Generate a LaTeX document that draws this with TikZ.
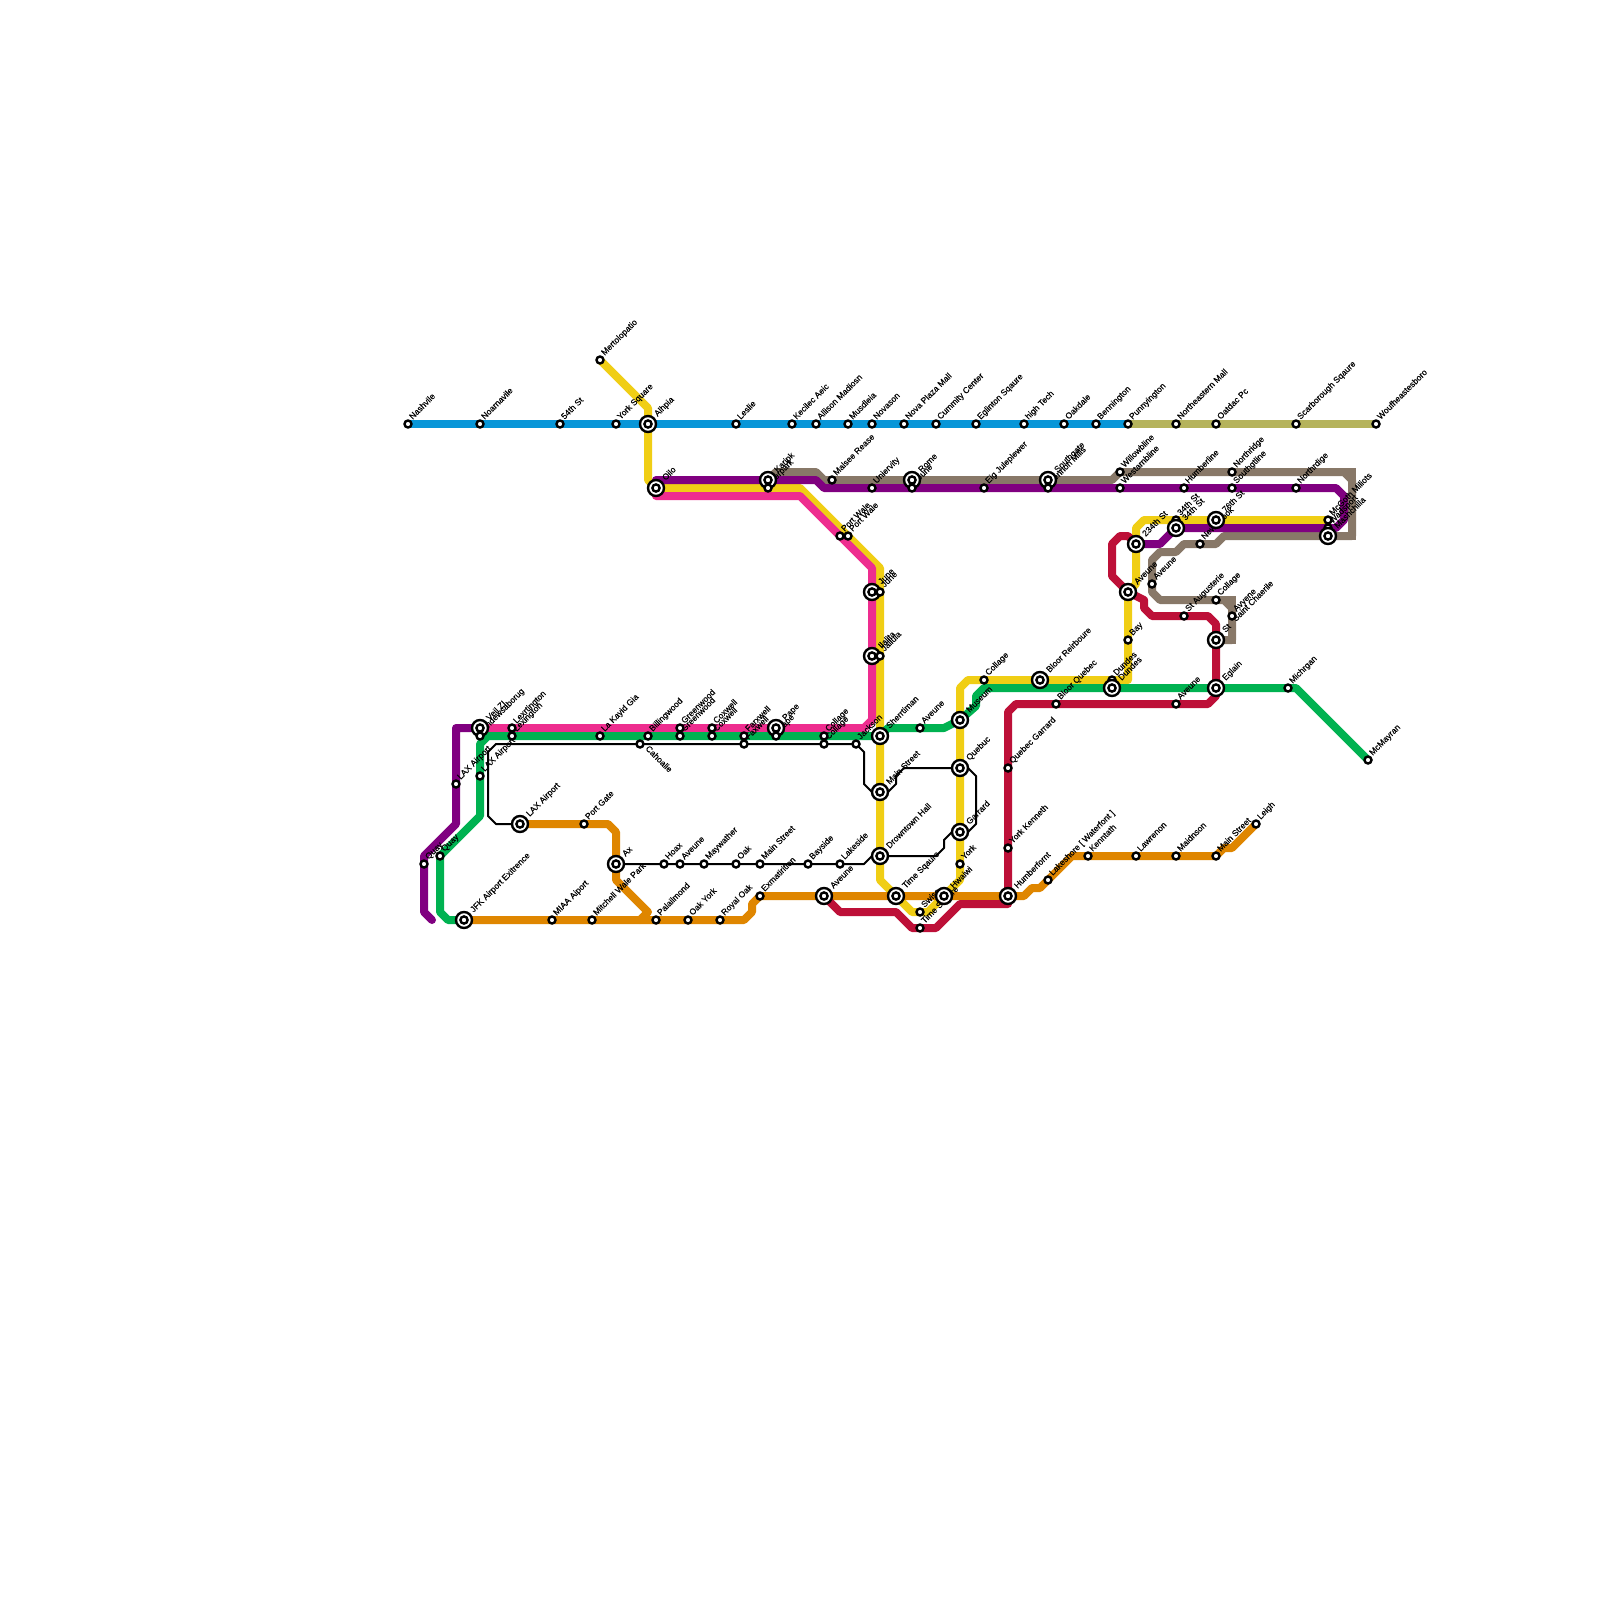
\documentclass[tikz,border=0pt]{standalone}
\usepackage{fontspec}
\setmainfont[FakeBold=0.3]{Liberation Sans}
\pgfdeclarelayer{labs}
\pgfdeclarelayer{stns}
\pgfsetlayers{main,labs,stns}
\definecolor{cblue}{HTML}{0896D8}
\definecolor{colive}{HTML}{B5B35C}
\definecolor{cyellow}{HTML}{F0CE15}
\definecolor{cpurple}{HTML}{800080}
\definecolor{cpink}{HTML}{EE2D8F}
\definecolor{cgreen}{HTML}{00B251}
\definecolor{corange}{HTML}{DF8600}
\definecolor{ccrimson}{HTML}{BD1038}
\definecolor{cgray}{HTML}{887868}
\tikzset{
  metro/.style={line width=8pt,line join=round,line cap=round},
  sqcorner/.style={line width=8pt,line join=miter,line cap=butt,cgray},
  thinline/.style={line width=2pt,line join=round,black},
  ringsmall/.style={circle,draw=black,fill=white,line width=2.4pt,minimum size=7pt,inner sep=0pt},
  ringbig/.style={circle,draw=black,fill=white,line width=2.4pt,minimum size=16pt,inner sep=0pt},
  ringin/.style={circle,draw=black,fill=white,line width=2.4pt,minimum size=7.2pt,inner sep=0pt},
  lbl/.style={rotate=45,anchor=base west,inner sep=0pt,font=\fontsize{8.5}{8.5}\selectfont,text=black}
}
\newcommand\stn[4]{%
  \begin{pgfonlayer}{labs}\node[lbl] (#1t) at (#2+4.5,#3-4) {#4};\end{pgfonlayer}%
  \begin{pgfonlayer}{stns}\node[ringsmall] (#1) at (#2,#3) {};\end{pgfonlayer}}
\newcommand\xch[4]{%
  \begin{pgfonlayer}{labs}\node[lbl] (#1t) at (#2+9.5,#3-7) {#4};\end{pgfonlayer}%
  \begin{pgfonlayer}{stns}\node[ringbig] (#1) at (#2,#3) {};\node[ringin] (#1i) at (#2,#3) {};\end{pgfonlayer}}
\begin{document}
\begin{tikzpicture}[x=1pt,y=-1pt]
\fill[white] (0,0) rectangle (1600,1600);
\useasboundingbox (0,0) rectangle (1600,1600);
% small stations that lie under an interchange
\stn{dun2}{1112}{680}{Dundes}
\stn{thi2}{1176}{520}{34th St}
\stn{wad}{1328}{528}{Wadsport}
% interchanges
\xch{alh}{648}{424}{Alhpia}
\xch{oil}{656}{488}{Oilo}
\xch{kar}{768}{480}{Karipk}
\xch{rome}{912}{480}{Rome}
\xch{sou}{1048}{480}{Southgate}
\xch{jun}{872}{592}{June}
\xch{hal}{872}{656}{Ilalita}
\xch{vail}{480}{728}{Veil ZI}
\xch{pap}{776}{728}{Pape}
\xch{she}{880}{736}{Sherrtiman}
\xch{mai}{880}{792}{Main Street}
\xch{dro}{880}{856}{Drowntown Hall}
\xch{tim}{896}{896}{Time Sqaure}
\xch{hwa}{944}{896}{Hwaiwi}
\xch{mus}{960}{720}{Museum}
\xch{que}{960}{768}{Quebuc}
\xch{gar}{960}{832}{Garrard}
\xch{hum}{1008}{896}{Humberfornt}
\xch{blo}{1040}{680}{Bloor Reirboure}
\xch{dun}{1112}{688}{Dundes}
\xch{egl}{1216}{688}{Eglain}
\xch{stt}{1216}{640}{St}
\xch{ave}{1128}{592}{Aveune}
\xch{twe}{1136}{544}{234th St}
\xch{thi}{1176}{528}{34th St}
\xch{sev}{1216}{520}{76th St}
\xch{mad}{1328}{536}{Mashchilla}
\xch{laxo}{520}{824}{LAX Airport}
\xch{ax}{616}{864}{Ax}
\xch{jfk}{464}{920}{JFK Airport Exitrence}
\xch{avo}{824}{896}{Aveune}
% blue and olive
\stn{nas}{408}{424}{Nashvile}
\stn{noa}{480}{424}{Noarnavile}
\stn{fif}{560}{424}{54th St}
\stn{yor}{616}{424}{York Square}
\stn{mer}{600}{360}{Mertolopatio}
\stn{les}{736}{424}{Leslie}
\stn{kec}{792}{424}{Kecilec Aeic}
\stn{all}{816}{424}{Allison Madiosn}
\stn{mud}{848}{424}{Musdleia}
\stn{nov}{872}{424}{Novason}
\stn{npm}{904}{424}{Nova Plaza Mall}
\stn{cum}{936}{424}{Cummity Center}
\stn{egs}{976}{424}{Eglinton Sqaure}
\stn{hig}{1024}{424}{high Tech}
\stn{oak}{1064}{424}{Oakdale}
\stn{ben}{1096}{424}{Bennington}
\stn{pun}{1128}{424}{Punnyington}
\stn{nem}{1176}{424}{Northeastern Mall}
\stn{oat}{1216}{424}{Oatdac Pc}
\stn{sca}{1296}{424}{Scarborough Sqaure}
\stn{wou}{1376}{424}{Woufheastesboro}
% north middle
\stn{kar3}{768}{488}{Kerpark}
\stn{mal}{832}{480}{Malsee Rease}
\stn{uni}{872}{488}{Uniervity}
\stn{rom3}{912}{488}{Jeune}
\stn{eig}{984}{488}{Eig Juleplewer}
\stn{sou3}{1048}{488}{Lennon Mills}
\stn{wil}{1120}{472}{Willowbline}
\stn{wes}{1120}{488}{Westarnbline}
\stn{hln}{1184}{488}{Humberline}
\stn{nri}{1232}{472}{Northridge}
\stn{sgl}{1232}{488}{Southgtline}
\stn{nrd}{1296}{488}{Northrdige}
\stn{mcg}{1328}{520}{McGoth Miliots}
\stn{nbr}{1200}{544}{New Brook}
\stn{av2}{1152}{584}{Aveune}
\stn{sau}{1184}{616}{St Augusterie}
\stn{col}{1216}{600}{Collage}
\stn{av3}{1232}{616}{Avyene}
\begin{pgfonlayer}{labs}\node[lbl] (scht) at (1236,622) {Saint Chaerile};\end{pgfonlayer}
\stn{bay}{1128}{640}{Bay}
\stn{pw1}{840}{536}{Port Wale}
\stn{pw2}{848}{536}{Port Wale}
\stn{jun2}{880}{592}{June}
\stn{hal2}{880}{656}{Jaliula}
% east middle
\stn{clg}{984}{680}{Collage}
\stn{bqu}{1056}{704}{Bloor Quebec}
\stn{av4}{1176}{704}{Aveune}
\stn{mic}{1288}{688}{Michrgan}
\stn{mcm}{1368}{760}{McMayran}
\stn{qga}{1008}{768}{Quebec Garrard}
\stn{yke}{1008}{848}{York Kenneth}
\stn{lak}{1048}{880}{Lakeshore [ Waterfont ]}
\stn{ken}{1088}{856}{Kenntath}
\stn{law}{1136}{856}{Lawrenon}
\stn{mdn}{1176}{856}{Maidnson}
\stn{mst}{1216}{856}{Main Street}
\stn{lei}{1256}{824}{Leigh}
\stn{yrk}{960}{864}{York}
\stn{swi}{920}{912}{Swiss}
\stn{tsq}{920}{928}{Time Square}
\stn{ave9}{920}{728}{Aveune}
\stn{jac}{856}{744}{Jackson}
% west row
\stn{vai3}{480}{736}{Andewsaborug}
\stn{lex}{512}{728}{Lexrtington}
\stn{lxn}{512}{736}{Lexington}
\stn{lay}{600}{736}{La Kayid Gia}
\stn{bil}{648}{736}{Billingwood}
\begin{pgfonlayer}{labs}\node[lbl,rotate=-90,anchor=base west] (caht) at (645,749) {Cahoalie};\end{pgfonlayer}
\begin{pgfonlayer}{stns}\node[ringsmall] (cah) at (640,744) {};\end{pgfonlayer}
\stn{gr1}{680}{728}{Greenwood}
\stn{gr2}{680}{736}{Greenwood}
\stn{cx1}{712}{728}{Coxwell}
\stn{cx2}{712}{736}{Coxwell}
\stn{fa1}{744}{736}{Farxwell}
\stn{fa2}{744}{744}{Faxwell}
\stn{pa3}{776}{736}{Pape}
\stn{co1}{824}{736}{Collage}
\stn{co2}{824}{744}{Collage}
\stn{lxp}{456}{784}{LAX Airport}
\stn{lxg}{480}{776}{LAX Airport}
\stn{qu1}{424}{864}{Quay}
\stn{qu2}{440}{856}{Quay}
\stn{pga}{584}{824}{Port Gate}
\stn{mia}{552}{920}{MIAA Aiport}
\stn{mit}{592}{920}{Mitchell Wale Park}
\stn{pal}{656}{920}{Palailmond}
\stn{oky}{688}{920}{Oak York}
\stn{roy}{720}{920}{Royal Oak}
\stn{exm}{760}{896}{Exmatirition}
\stn{hoa}{664}{864}{Hoax}
\stn{av5}{680}{864}{Aveune}
\stn{may}{704}{864}{Maywather}
\stn{oa2}{736}{864}{Oak}
\stn{ms2}{760}{864}{Main Street}
\stn{bys}{808}{864}{Bayside}
\stn{lks}{840}{864}{Lakeside}
% lines
\draw[metro,cgray] (kar.center) -- (776,472) -- (816,472) -- (824,480) -- (1112,480) -- (wil.center) -- (1344,472) -- (1352,480) -- (1352,536) -- (mad.center);
\draw[metro,cgray] (mad.center) -- (1224,536) -- (1216,544) -- (1184,544) -- (1176,552) -- (1160,552) -- (1152,560) -- (1152,592) -- (1160,600) -- (1224,600) -- (1232,608) -- (1232,640) -- (stt.center);
\draw[sqcorner] (1340,472) -- (1352,472) -- (1352,484);
\draw[sqcorner] (1352,524) -- (1352,536) -- (1340,536);
\draw[sqcorner] (1220,600) -- (1232,600) -- (1232,612);
\draw[sqcorner] (1232,628) -- (1232,640) -- (1220,640);
\draw[metro,colive] (pun.center) -- (wou.center);
\draw[metro,cyellow] (mer.center) -- (640,400) -- (648,408) -- (648,480) -- (oil.center) -- (800,488) -- (880,568) -- (880,880) -- (904,904) -- (912,912) -- (928,912) -- (960,880) -- (960,688) -- (968,680) -- (1128,680) -- (1128,592) -- (1136,584) -- (1136,528) -- (1144,520) -- (mcg.center);
\draw[metro,cpink] (oil.center) ++(0,8) -- (800,496) -- (872,568) -- (872,720) -- (864,728) -- (vail.center);
\draw[metro,cpurple] (oil.center) ++(0,-8) -- (816,480) -- (824,488) -- (1336,488) -- (1344,496) -- (1344,520) -- (1336,528) -- (1176,528) -- (1160,544) -- (twe.center);
\draw[metro,cpurple] (vail.center) -- (456,728) -- (456,824) -- (424,856) -- (424,912) -- (432,920);
\draw[metro,cblue] (nas.center) -- (pun.center);
\draw[metro,cgreen] (jfk.center) -- (448,920) -- (440,912) -- (qu2.center) -- (480,816) -- (480,744) -- (488,736) -- (872,736) -- (she.center) -- (888,728) -- (944,728) -- (960,720) -- (976,706) -- (976,696) -- (984,688) -- (mic.center) -- (1296,688) -- (mcm.center);
\draw[metro,corange] (laxo.center) -- (608,824) -- (616,832) -- (616,880) -- (648,912) -- (640,920);
\draw[metro,corange] (jfk.center) -- (744,920) -- (752,912) -- (752,904) -- (exm.center) -- (hum.center) -- (1024,896) -- (1032,888) -- (1040,888) -- (1072,856) -- (mst.center) -- (1224,848) -- (1232,848) -- (lei.center);
\draw[metro,ccrimson] (avo.center) -- (840,912) -- (896,912) -- (912,928) -- (936,928) -- (960,904) -- (1008,904) -- (1008,712) -- (1016,704) -- (1208,704) -- (1216,696) -- (1216,624) -- (1208,616) -- (1152,616) -- (1144,608) -- (1144,600) -- (ave.center) -- (1112,576) -- (1112,544) -- (1120,536) -- (1128,536) -- (twe.center);
\draw[thinline] (laxo.center) -- (496,824) -- (488,816) -- (488,752) -- (496,744) -- (jac.center) -- (864,752) -- (864,784) -- (872,792) -- (mai.center) -- (888,792) -- (896,784) -- (896,776) -- (904,768) -- (que.center) -- (968,768) -- (976,776) -- (976,824) -- (968,832) -- (gar.center) -- (952,832) -- (944,840) -- (944,848) -- (936,856) -- (dro.center) -- (872,856) -- (864,864) -- (ax.center);
\end{tikzpicture}
\end{document}
